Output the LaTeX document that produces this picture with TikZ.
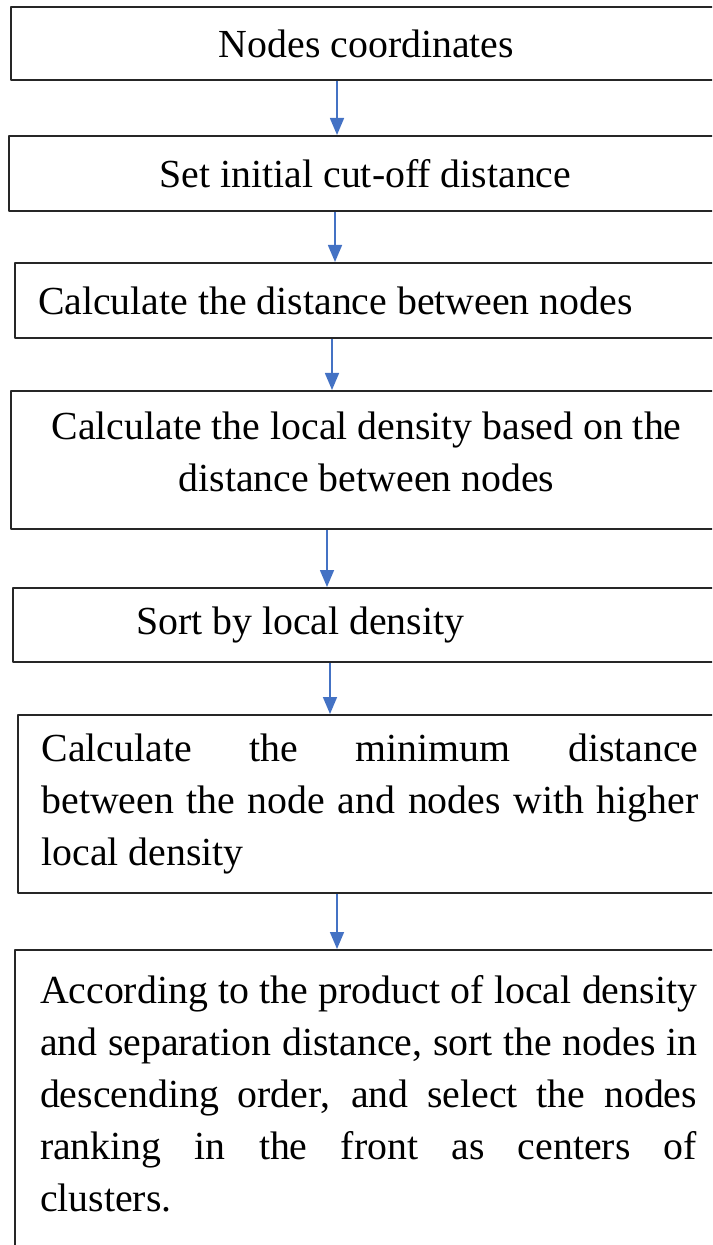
\documentclass[tikz,border=0pt]{standalone}
\usepackage{fontspec}
\setmainfont{Liberation Serif}
\usetikzlibrary{arrows.meta}
\definecolor{flowblue}{RGB}{68,114,196}
\newcommand\flowfont{\fontsize{19.9}{26}\selectfont}
\hyphenpenalty=10000
\tolerance=10000
\tikzset{
	box/.style={draw=black!85, line width=1pt, inner xsep=11.5pt, inner ysep=0pt, font=\flowfont},
	fixsp/.style={execute at begin node={\spaceskip=\fontdimen2\font\xspaceskip=0pt}},
	flow/.style={->, draw=flowblue, line width=0.8pt}
}
\begin{document}
\begin{tikzpicture}[x=0.5pt, y=-0.5pt, line join=round, >={Triangle[width=7pt,length=8.5pt]}]
		\useasboundingbox (0,0) rectangle (712,1245);
		\clip (0,0) rectangle (712,1245);
		%\draw[gray!40] (0,0) grid[step=50] (712,1245);
		\node[box, fixsp, minimum width=355.5pt, minimum height=36.5pt, text width=332.5pt, align=center] (coord) at (366.5,43.5) {Nodes coordinates};
		\node[box, fixsp, minimum width=356.5pt, minimum height=37.5pt, text width=333.5pt, align=center] (cutoff) at (365.5,173.5) {Set initial cut-off distance};
		\node[box, fixsp, minimum width=353.5pt, minimum height=37.5pt, text width=330.5pt, align=left] (dist) at (368.5,300.5) {Calculate the distance between nodes};
		\node[box, fixsp, minimum width=355.5pt, minimum height=69pt, text width=332.5pt, align=center] (dens) at (366.5,460) {Calculate the local density based on the\\distance between nodes\par\kern8pt};
		\node[box, fixsp, minimum width=354.5pt, minimum height=37pt, text width=331.5pt, align=left] (sortd) at (367.5,625) {\hspace*{50pt}Sort by local density};
		\node[box, inner xsep=11.75pt, minimum width=352pt, minimum height=89pt, text width=328.5pt, align=justify] (mind) at (370,804)
			{Calculate the minimum distance\linebreak between the node and nodes with higher\linebreak local density};
		\node[box, inner xsep=12.5pt, minimum width=353.5pt, minimum height=150pt, text width=328.5pt, align=justify] (centers) at (368.5,1100)
			{According to the product of local density\linebreak and separation distance, sort the nodes in\linebreak descending order, and select the nodes\linebreak ranking in the front as centers of\linebreak clusters.\par\kern6pt};
		\foreach \a/\b/\ax in {coord/cutoff/337, cutoff/dist/335, dist/dens/332, dens/sortd/327, sortd/mind/330, mind/centers/337}{
			\path (\ax,0) coordinate (ax);
			\draw[flow] (\a.south -| ax) -- (\b.north -| ax);
		}
	\end{tikzpicture}
\end{document}
